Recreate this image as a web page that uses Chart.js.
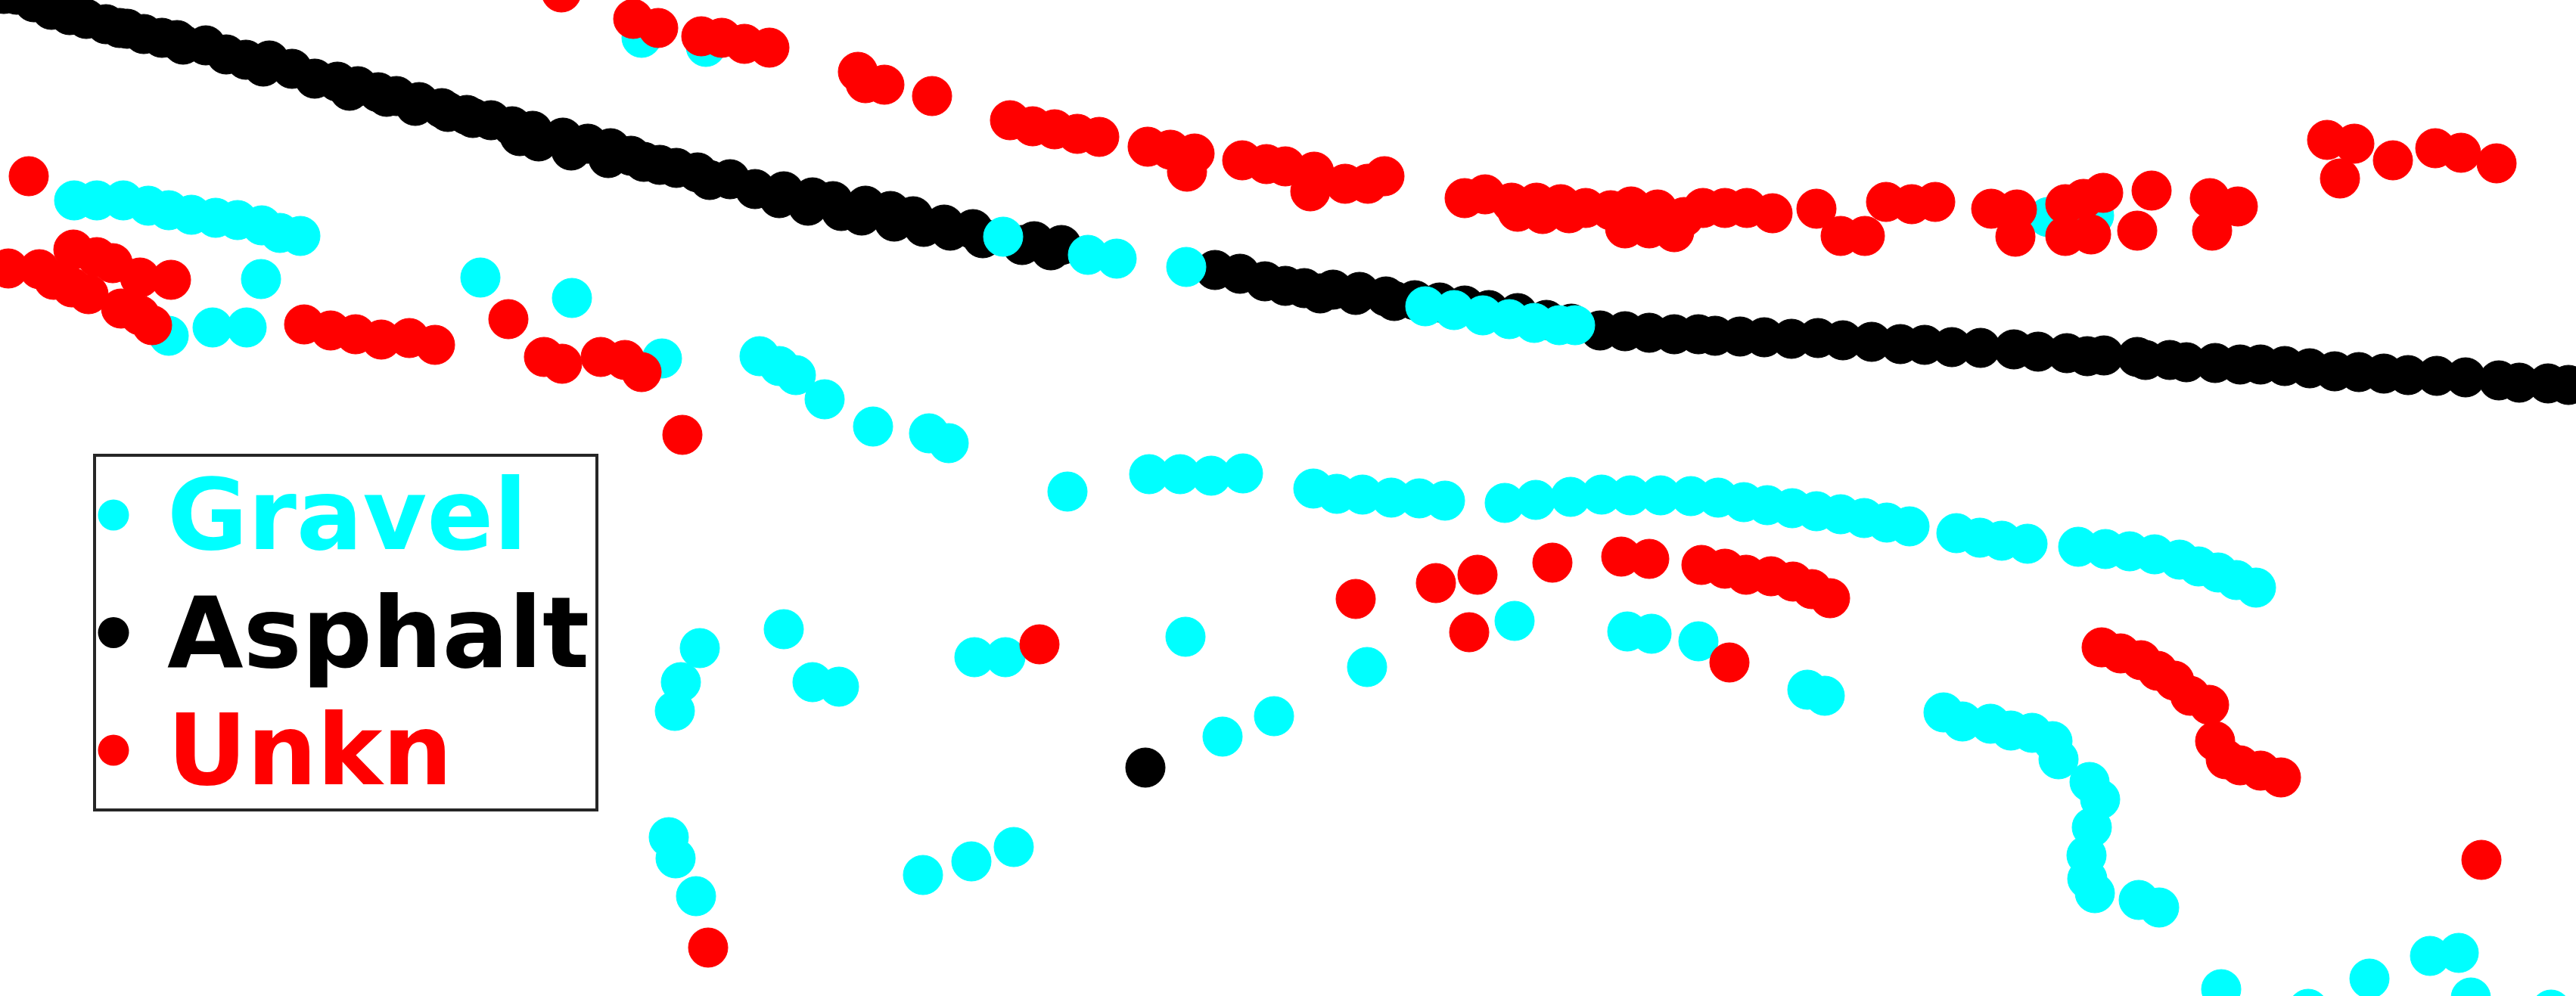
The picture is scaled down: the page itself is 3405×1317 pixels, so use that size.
<!DOCTYPE html>
<html>
<head>
<meta charset="utf-8">
<script src="https://cdn.jsdelivr.net/npm/chart.js@4.4.1/dist/chart.umd.min.js"></script>
<style>
html,body{margin:0;padding:0;background:#ffffff;overflow:hidden}
canvas{display:block}
</style>
</head>
<body>
<canvas id="c" width="3405" height="1317" style="width:3405px;height:1317px"></canvas>
<script>
// Series names and colours (legend order)
const seriesNames = ['Gravel', 'Asphalt', 'Unkn'];
const seriesColors = ['#00ffff', '#000000', '#ff0000'];

// Axis ranges (no visible axes in the picture)
const xRange = [0, 3405];
const yRange = [0, 1317];

// Gravel points [x, y]
const gravel = [
  [848,50],[933,62],
  [98,265],[128,265],[163,265],[196,272],[223,278],[253,284],[285,288],[314,291],[346,298],[370,308],[397,312],
  [345,369],[635,367],[756,394],[223,444],[281,433],[326,433],
  [1326,313],[1438,337],[1476,342],[1568,353],
  [1884,405],[1922,410],[1960,417],[1995,422],[2028,427],[2061,430],[2082,430],
  [2707,287],[2768,285],
  [875,474],[1004,471],[1030,484],[1052,496],[1090,528],[1154,564],[1228,573],[1254,586],[1411,650],
  [1519,627],[1560,627],[1601,629],[1643,626],
  [1736,646],[1767,653],[1801,654],[1839,658],[1876,659],[1910,662],
  [1989,665],[2030,661],[2076,657],[2117,654],[2155,655],[2195,655],[2235,656],[2271,658],[2305,664],
  [2336,668],[2369,672],[2401,676],[2433,680],[2464,685],[2494,691],[2524,696],
  [2586,705],[2617,711],[2646,715],[2680,719],
  [2747,723],[2783,726],[2815,729],[2848,733],[2881,740],[2906,749],[2932,757],[2956,767],[2982,777],
  [925,857],[1036,832],[1288,869],[1329,869],[1567,842],[2002,821],[2151,835],[2183,838],[2245,848],
  [1807,882],[900,902],[892,940],[1074,902],[1109,908],[1616,974],[1684,947],
  [884,1107],[893,1135],[920,1185],[1220,1157],[1284,1139],[1340,1120],[2389,912],[2412,920],
  [2569,942],[2594,954],[2631,957],[2658,966],[2686,969],[2713,980],[2721,1004],[2762,1034],[2776,1057],
  [2765,1094],[2758,1131],[2759,1162],[2769,1181],[2827,1190],[2854,1200],
  [2936,1308],[3051,1334],[3132,1294],[3212,1264],[3250,1260],[3266,1319],[3372,1335]
];

// Asphalt points [x, y]
const asphalt = [
  [5,-8],[22,-7],[45,3],[68,13],[92,20],[114,25],[140,32],[158,37],[168,38],[190,45],[214,50],[234,53],
  [242,59],[272,60],[299,72],[325,79],[348,88],[356,80],[386,91],[416,104],[446,108],[462,120],[473,114],
  [500,122],[511,128],[524,127],[549,140],[554,135],[584,143],[592,148],[617,152],[625,156],[649,159],
  [677,167],[687,180],[704,173],[712,187],[744,182],[755,199],[777,190],[804,209],[807,196],[834,206],
  [851,214],[872,218],[894,222],[922,228],[938,238],[965,237],[998,250],[1030,262],[1036,253],[1068,272],
  [1074,261],[1101,266],[1112,279],[1139,285],[1144,272],[1177,279],[1182,293],[1207,286],[1221,300],
  [1248,297],[1256,305],[1286,303],[1299,315],[1351,324],[1367,319],[1389,331],[1403,324],
  [1606,357],[1639,362],[1672,372],[1699,378],[1724,381],[1745,388],[1762,383],[1792,390],[1797,386],
  [1832,392],[1843,398],[1870,397],[1903,400],[1936,404],[1968,410],[2006,414],[2044,423],[2077,428],
  [2115,437],[2148,438],[2180,440],[2213,442],[2245,442],[2267,444],[2300,445],[2332,446],[2368,448],
  [2403,447],[2436,450],[2474,452],[2512,455],[2544,456],
  [2580,459],[2618,460],[2662,462],[2694,465],[2732,467],[2759,471],[2781,470],[2825,472],[2836,476],
  [2868,476],[2890,479],[2928,480],[2961,482],[2988,482],[3020,484],[3053,487],[3086,491],[3118,492],
  [3151,494],[3183,496],[3221,497],[3259,499],[3303,503],[3330,506],[3368,507],[3395,509],
  [1514,1015]
];

// Unkn points [x, y]
const unkn = [
  [742,-10],[837,25],
  [870,37],[927,48],[954,50],[984,58],[1017,63],
  [1134,95],[1144,110],[1169,112],[1232,127],
  [1335,159],[1365,167],[1394,171],[1424,177],[1453,181],
  [1517,194],[1547,198],[1579,203],[1569,227],[1642,212],[1674,217],[1699,220],
  [1737,227],[1732,253],[1778,243],[1808,243],[1830,233],
  [1936,262],[1963,257],[1998,268],[2006,280],[2031,268],[2039,283],[2063,270],[2074,282],[2096,275],
  [2129,278],[2148,302],[2156,273],[2180,302],[2191,277],[2213,307],[2226,287],[2251,275],[2280,275],
  [2309,275],[2343,282],
  [2401,276],[2433,312],[2465,312],[2493,267],[2527,270],[2558,267],
  [2632,276],[2666,277],[2664,313],[2730,270],[2754,263],[2780,255],[2730,312],[2764,310],[2844,252],
  [2825,305],[2921,262],[2958,273],[2924,305],
  [3076,185],[3112,190],[3093,236],[3163,212],[3219,196],[3253,202],[3300,216],
  [38,233],[11,355],[52,356],[97,330],[128,340],[149,348],[185,367],[226,370],[71,370],[95,380],
  [117,389],[160,408],[185,417],[201,430],
  [402,429],[437,437],[470,442],[504,449],[541,447],[575,456],
  [672,422],[719,472],[743,481],[794,472],[826,476],[848,492],
  [902,575],[936,1253],[1374,852],
  [1792,792],[1898,771],[1953,760],[2052,744],[2143,736],[2180,739],[2249,747],[2280,752],[2308,760],
  [2341,762],[2370,769],[2395,779],[2419,791],[1942,836],[2286,876],
  [2778,856],[2803,864],[2830,873],[2852,887],[2874,900],[2895,920],[2920,932],
  [2928,980],[2942,1004],[2961,1012],[2988,1019],[3015,1028],
  [3280,1137]
];

const seriesData = [gravel, asphalt, unkn];
// drawing order: Asphalt bottom, Gravel middle, Unkn on top
const drawOrder = [2, 3, 1];

const boxLegend = {
  id: 'boxLegend',
  afterDraw(chart) {
    const ctx = chart.ctx;
    const box = {left: 125, top: 602, right: 789, bottom: 1071};
    ctx.save();
    ctx.fillStyle = '#ffffff';
    ctx.fillRect(box.left, box.top, box.right - box.left, box.bottom - box.top);
    ctx.lineWidth = 4;
    ctx.strokeStyle = '#262626';
    ctx.strokeRect(box.left, box.top, box.right - box.left, box.bottom - box.top);
    ctx.font = 'bold 130px "DejaVu Sans"';
    ctx.textBaseline = 'alphabetic';
    ctx.textAlign = 'left';
    chart.data.datasets.forEach((ds, i) => {
      const baseline = 726 + i * 155.5;
      ctx.fillStyle = ds.backgroundColor;
      ctx.beginPath();
      ctx.arc(150, baseline - 45, 20.5, 0, Math.PI * 2);
      ctx.fill();
      ctx.fillText(ds.label, 221, baseline);
    });
    ctx.restore();
  }
};

new Chart(document.getElementById('c'), {
  type: 'scatter',
  data: {
    datasets: seriesNames.map((name, i) => ({
      label: name,
      data: seriesData[i].map(p => ({x: p[0], y: p[1]})),
      backgroundColor: seriesColors[i],
      borderColor: seriesColors[i],
      pointRadius: 26,
      pointHoverRadius: 26,
      pointBorderWidth: 1,
      order: drawOrder[i],
      clip: false
    }))
  },
  options: {
    responsive: false,
    animation: false,
    devicePixelRatio: 1,
    events: [],
    layout: {padding: 0, autoPadding: false},
    scales: {
      x: {type: 'linear', min: xRange[0], max: xRange[1], display: false},
      y: {type: 'linear', min: yRange[0], max: yRange[1], reverse: true, display: false}
    },
    plugins: {
      legend: {display: false},
      tooltip: {enabled: false}
    }
  },
  plugins: [boxLegend]
});
</script>
</body>
</html>
